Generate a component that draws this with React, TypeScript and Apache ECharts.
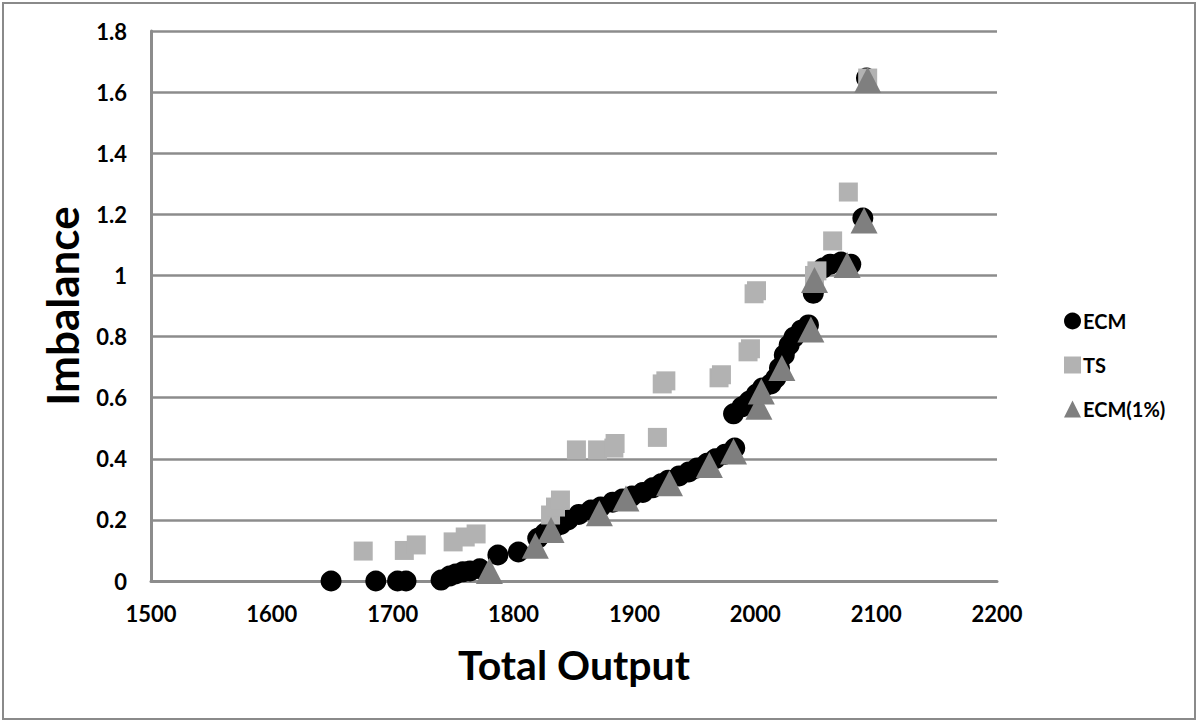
import React, { useEffect, useRef } from "react";
import * as echarts from "echarts";

const ecmData: number[][] = [
  [1649, 0], [1686, 0], [1704, 0], [1711, 0], [1740, 0.003], [1747, 0.016], [1752, 0.023],
  [1758, 0.03], [1764, 0.033], [1772, 0.04], [1787, 0.085], [1804, 0.095], [1820, 0.14],
  [1826, 0.157], [1833, 0.173], [1839, 0.185], [1845, 0.2], [1854, 0.218], [1864, 0.232],
  [1872, 0.242], [1882, 0.258], [1890, 0.268], [1898, 0.278], [1907, 0.29], [1915, 0.305],
  [1922, 0.318], [1928, 0.33], [1937, 0.344], [1945, 0.357], [1952, 0.37], [1960, 0.385],
  [1967, 0.4], [1975, 0.415], [1983, 0.435], [1982, 0.547], [1989, 0.57], [1995, 0.589],
  [2001, 0.612], [2006, 0.632], [2013, 0.645], [2017, 0.664], [2020, 0.697], [2024, 0.74],
  [2028, 0.772], [2032, 0.798], [2038, 0.821], [2044, 0.838], [2048, 0.942], [2056, 1.024],
  [2062, 1.037], [2071, 1.044], [2079, 1.037], [2089, 1.188], [2092, 1.646],
];

const tsData: number[][] = [
  [1675.6, 0.098], [1709.6, 0.1], [1719.5, 0.118], [1750, 0.128], [1760, 0.144], [1769, 0.154],
  [1830.6, 0.216], [1834.7, 0.242], [1838.8, 0.265], [1852, 0.429], [1869.5, 0.429],
  [1883, 0.435], [1884, 0.45], [1919, 0.47], [1923, 0.645], [1926, 0.655], [1970, 0.665],
  [1972, 0.675], [1994, 0.75], [1996, 0.76], [1999, 0.94], [2001, 0.95], [2049, 1.0],
  [2051, 1.015], [2064, 1.113], [2077, 1.273], [2093, 1.646],
];

const ecm1Data: number[][] = [
  [1780, 0.033], [1818, 0.115], [1831, 0.167], [1871, 0.222], [1893, 0.27], [1929, 0.32],
  [1962, 0.38], [1982, 0.424], [2003, 0.57], [2005, 0.62], [2022, 0.697], [2046, 0.823],
  [2049, 0.985], [2076, 1.034], [2090, 1.18], [2093, 1.64],
];

const seriesNames = ["ECM", "TS", "ECM(1%)"];
const xTitle = "Total Output";
const yTitle = "Imbalance";

const FONT = "Lato, 'Noto Sans', sans-serif";

export default function App() {
  const ref = useRef<HTMLDivElement>(null);
  useEffect(() => {
    if (!ref.current) return;
    const chart = echarts.init(ref.current, null, { renderer: "svg" });
    chart.setOption({
      animation: false,
      backgroundColor: "#ffffff",
      grid: { left: 151, top: 31, right: 201, bottom: 141, containLabel: false },
      xAxis: {
        type: "value",
        min: 1500,
        max: 2200,
        interval: 100,
        name: xTitle,
        nameLocation: "middle",
        nameGap: 63,
        nameTextStyle: { fontFamily: FONT, fontWeight: "bold", fontSize: 41, color: "#000" },
        axisLine: { show: true, onZero: false, lineStyle: { color: "#8c8c8c", width: 3 } },
        axisTick: { show: false },
        splitLine: { show: false },
        axisLabel: {
          margin: 21,
          fontFamily: FONT,
          fontWeight: "bold",
          fontSize: 22,
          color: "#000",
          formatter: (v: number) => String(v),
        },
      },
      yAxis: {
        type: "value",
        min: 0,
        max: 1.8,
        interval: 0.2,
        name: yTitle,
        nameLocation: "middle",
        nameGap: 67,
        nameTextStyle: { fontFamily: FONT, fontWeight: "bold", fontSize: 44, color: "#000" },
        axisLine: { show: true, lineStyle: { color: "#8c8c8c", width: 3 } },
        axisTick: { show: false },
        splitLine: { show: true, lineStyle: { color: "#8c8c8c", width: 2.5 } },
        axisLabel: { margin: 24, fontFamily: FONT, fontWeight: "bold", fontSize: 22, color: "#000" },
      },
      legend: {
        orient: "vertical",
        left: 1059,
        top: 306,
        itemWidth: 17,
        itemHeight: 17,
        itemGap: 24,
        textStyle: { fontFamily: FONT, fontWeight: "bold", fontSize: 20, color: "#000", padding: [0, 0, 0, -3] },
        data: [
          { name: seriesNames[0], icon: "circle" },
          { name: seriesNames[1], icon: "rect" },
          { name: seriesNames[2], icon: "triangle" },
        ],
      },
      graphic: [
        {
          type: "rect",
          shape: { x: 3, y: 3, width: 1192, height: 716 },
          style: { fill: "none", stroke: "#8a8a8a", lineWidth: 2 },
          silent: true,
        },
      ],
      series: [
        {
          name: seriesNames[0],
          type: "scatter",
          symbol: "circle",
          symbolSize: 21,
          itemStyle: { color: "#000000", opacity: 1 },
          data: ecmData,
        },
        {
          name: seriesNames[1],
          type: "scatter",
          symbol: "rect",
          symbolSize: 19,
          itemStyle: { color: "#b2b2b2", opacity: 1 },
          data: tsData,
        },
        {
          name: seriesNames[2],
          type: "scatter",
          symbol: "triangle",
          symbolSize: [27, 26],
          itemStyle: { color: "#7f7f7f", opacity: 1 },
          data: ecm1Data,
        },
      ],
    });
    return () => chart.dispose();
  }, []);
  return (
    <div
      ref={ref}
      style={{ position: "fixed", left: 0, top: 0, width: 1198, height: 722 }}
    />
  );
}
